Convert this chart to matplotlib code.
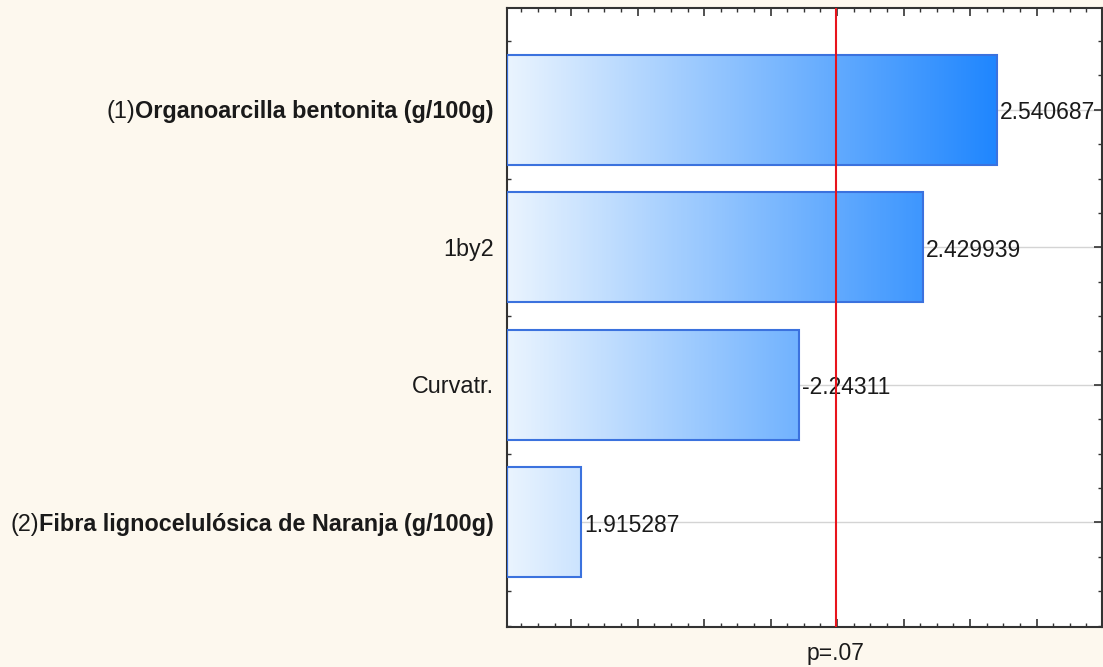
import numpy as np
import matplotlib.pyplot as plt
from matplotlib.colors import LinearSegmentedColormap
from matplotlib.offsetbox import TextArea, HPacker, AnnotationBbox
from matplotlib.ticker import MultipleLocator

plt.rcParams['font.family'] = ['Liberation Sans', 'DejaVu Sans']

# Efectos estandarizados (t) - diagrama de Pareto
prefixes = ["(1)", "", "", "(2)"]
names = ["Organoarcilla bentonita (g/100g)", "1by2", "Curvatr.",
         "Fibra lignocelulósica de Naranja (g/100g)"]
bold_name = [True, False, False, True]
effects = [2.540687, 2.429939, -2.24311, 1.915287]
effect_labels = ["2.540687", "2.429939", "-2.24311", "1.915287"]
t_crit = 2.298
p_label = "p=.07"

X_MIN, X_MAX = 1.8035, 2.6985
BG = '#fdf8ee'
FS_LAB = 16.8
FS_VAL = 16.5

grad = LinearSegmentedColormap.from_list('azul', ['#eaf4fe', '#1f86ff'])

fig = plt.figure(figsize=(11.03, 6.67), dpi=100, facecolor=BG)
ax = fig.add_axes([0.4597, 0.06, 0.5394, 0.928])
ax.set_facecolor('white')

ypos = np.arange(len(effects))
vals = np.abs(effects)
vmax = vals.max()

# líneas de referencia horizontales
for y in ypos:
    ax.axhline(y, color='#d4d4d4', lw=1.0, zorder=0)

bars = ax.barh(ypos, vals - X_MIN, left=X_MIN, height=0.8,
               facecolor='none', edgecolor='#3b72de', linewidth=1.5, zorder=3)

# relleno en degradado horizontal para cada barra
for b, v in zip(bars, vals):
    x0, y0, w, h = b.get_x(), b.get_y(), b.get_width(), b.get_height()
    g = np.linspace(0, (v - X_MIN) / (vmax - X_MIN), 256)[None, :]
    ax.imshow(g, cmap=grad, vmin=0, vmax=1, aspect='auto',
              extent=(x0, x0 + w, y0 + h, y0), zorder=2, interpolation='bilinear')

for y, v, lab in zip(ypos, vals, effect_labels):
    ax.annotate(lab, (v, y), xytext=(2, -2), textcoords='offset points',
                fontsize=FS_VAL, va='center', ha='left', color='#1a1a1a', zorder=4)

ax.axvline(t_crit, color='#e8141c', lw=1.5, zorder=5)

ax.set_xlim(X_MIN, X_MAX)
ax.set_ylim(3.76, -0.74)

ax.xaxis.set_major_locator(MultipleLocator(0.1))
ax.xaxis.set_minor_locator(MultipleLocator(0.025))
ax.yaxis.set_major_locator(MultipleLocator(1))
ax.yaxis.set_minor_locator(MultipleLocator(0.25))
ax.tick_params(which='both', direction='in', top=True, right=True,
               labelbottom=False, labelleft=False, color='#333333')
ax.tick_params(which='major', length=6, width=1.2)
ax.tick_params(which='minor', length=3, width=1.0)
for s in ax.spines.values():
    s.set_color('#333333')
    s.set_linewidth(1.5)

# etiquetas de los efectos con prefijo normal y nombre en negrita
for y, pre, nm, bd in zip(ypos, prefixes, names, bold_name):
    parts = []
    if pre:
        parts.append(TextArea(pre, textprops=dict(fontsize=FS_LAB, color='#1a1a1a')))
    parts.append(TextArea(nm, textprops=dict(fontsize=FS_LAB, color='#1a1a1a',
                                             fontweight='bold' if bd else 'normal')))
    box = HPacker(children=parts, pad=0, sep=0, align='center')
    ab = AnnotationBbox(box, (0, y), xycoords=('axes fraction', 'data'),
                        xybox=(-9.5, -1.5), boxcoords='offset points',
                        box_alignment=(1, 0.5), frameon=False)
    ax.add_artist(ab)

ax.text(t_crit, -0.043, p_label, transform=ax.get_xaxis_transform(),
        ha='center', va='center', fontsize=FS_VAL, color='#1a1a1a')

fig.savefig('out.png', dpi=100, facecolor=BG)
